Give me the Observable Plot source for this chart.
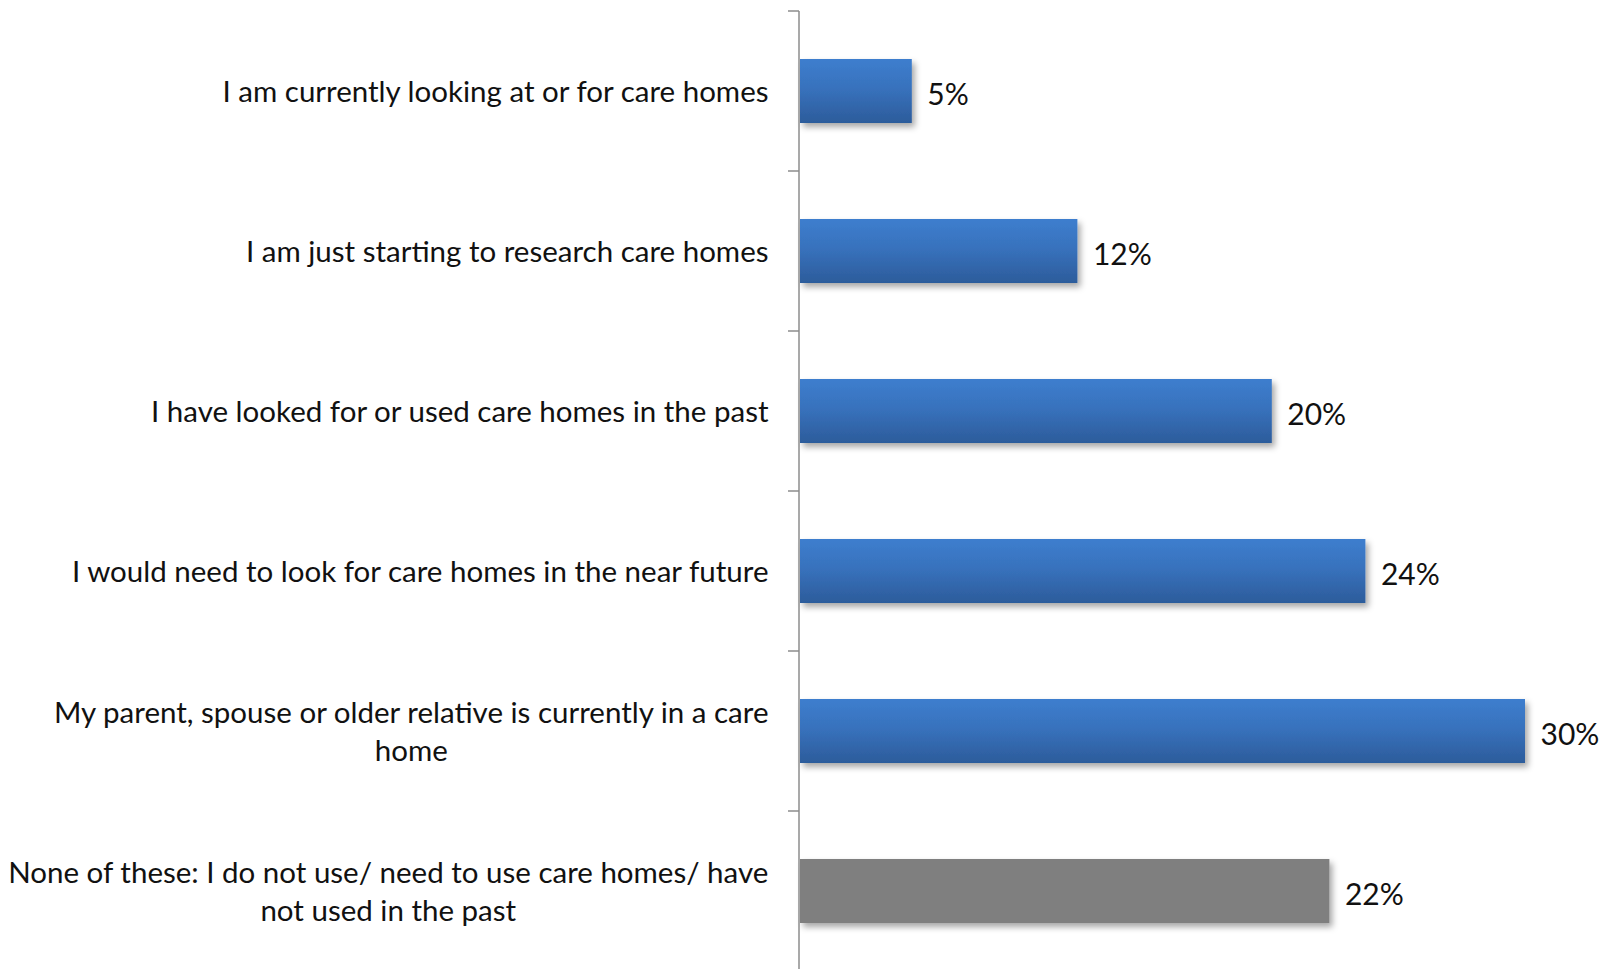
<!DOCTYPE html>
<html>
<head>
<meta charset="utf-8">
<script src="https://cdn.jsdelivr.net/npm/d3@7"></script>
<script src="https://cdn.jsdelivr.net/npm/@observablehq/plot@0.6"></script>
<style>
  html, body { margin: 0; padding: 0; background: #fff; overflow: hidden; }
  #chart svg { display: block; }
</style>
</head>
<body>
<div id="chart"></div>
<script>
const categories = [
  "I am currently looking at or for care homes",
  "I am just starting to research care homes",
  "I have looked for or used care homes in the past",
  "I would need to look for care homes in the near future",
  "My parent, spouse or older relative is currently in a care\nhome",
  "None of these: I do not use/ need to use care homes/ have\nnot used in the past"
];
const values = [0.047, 0.116, 0.197, 0.236, 0.3025, 0.221];
const fills = ["url(#blueGrad)", "url(#blueGrad)", "url(#blueGrad)", "url(#blueGrad)", "url(#blueGrad)", "#7F7F7F"];

const data = categories.map((c, i) => ({category: c, value: values[i], fill: fills[i]}));

const FONT = "Lato, 'Open Sans', sans-serif";

const defsMark = () => {
  const g = d3.create("svg:g");
  const defs = g.append("defs");
  const lg = defs.append("linearGradient").attr("id", "blueGrad").attr("x1", 0).attr("y1", 0).attr("x2", 0).attr("y2", 1);
  lg.append("stop").attr("offset", "0%").attr("stop-color", "#3D7ECE");
  lg.append("stop").attr("offset", "45%").attr("stop-color", "#3872BD");
  lg.append("stop").attr("offset", "100%").attr("stop-color", "#2C5C9B");
  const f = defs.append("filter").attr("id", "shadow").attr("x", "-10%").attr("y", "-20%").attr("width", "130%").attr("height", "160%");
  f.append("feDropShadow").attr("dx", 3).attr("dy", 4).attr("stdDeviation", 3).attr("flood-color", "#000").attr("flood-opacity", 0.35);
  return g.node();
};

const axisMark = (index, scales, values, dimensions) => {
  const g = d3.create("svg:g");
  const x0 = scales.x(0);
  const step = scales.y.step();
  const bw = scales.y.bandwidth();
  g.append("line")
    .attr("x1", x0).attr("x2", x0)
    .attr("y1", dimensions.marginTop).attr("y2", dimensions.height)
    .attr("stroke", "#8C8C8C").attr("stroke-width", 1.5);
  categories.forEach(c => {
    const top = scales.y(c) - (step - bw) / 2;
    g.append("line")
      .attr("x1", x0 - 11).attr("x2", x0)
      .attr("y1", top).attr("y2", top)
      .attr("stroke", "#8C8C8C").attr("stroke-width", 1.5);
  });
  return g.node();
};

const chart = Plot.plot({
  width: 1608,
  height: 969,
  marginLeft: 799,
  marginRight: 41,
  marginTop: 11,
  marginBottom: -2,
  style: {fontFamily: FONT, background: "#fff"},
  x: {domain: [0, 0.32], axis: null},
  y: {domain: categories, paddingInner: 0.6, paddingOuter: 0.3, align: 0.5, label: null},
  color: {type: "identity"},
  marks: [
    defsMark,
    Plot.barX(data, {y: "category", x: "value", fill: "fill", insetLeft: 1}),
    Plot.text(data, {
      y: "category", x: "value",
      text: d => d3.format(".0%")(d.value),
      textAnchor: "start", dx: 15, dy: 4,
      fontSize: 30, fill: "#111", fontFamily: FONT
    }),
    Plot.axisY({
      tickSize: 0, tickPadding: 31, fontSize: 29.5, label: null,
      lineHeight: 1.32, fill: "#111", dy: -2
    }),
    axisMark
  ]
});

document.getElementById("chart").appendChild(chart);

// apply drop shadow to bars
d3.select(chart).selectAll("g[aria-label='bar'] rect").attr("filter", "url(#shadow)");

// center multi-line tick labels within their right-aligned block
d3.select(chart).selectAll("g[aria-label='y-axis tick label'] text").each(function() {
  const t = d3.select(this);
  const tspans = t.selectAll("tspan");
  if (tspans.size() > 1) {
    const w = this.getBBox().width;
    t.attr("text-anchor", "middle");
    const tr = t.attr("transform") || "";
    t.attr("transform", tr + ` translate(${-w / 2},0)`);
  }
});
</script>
</body>
</html>
